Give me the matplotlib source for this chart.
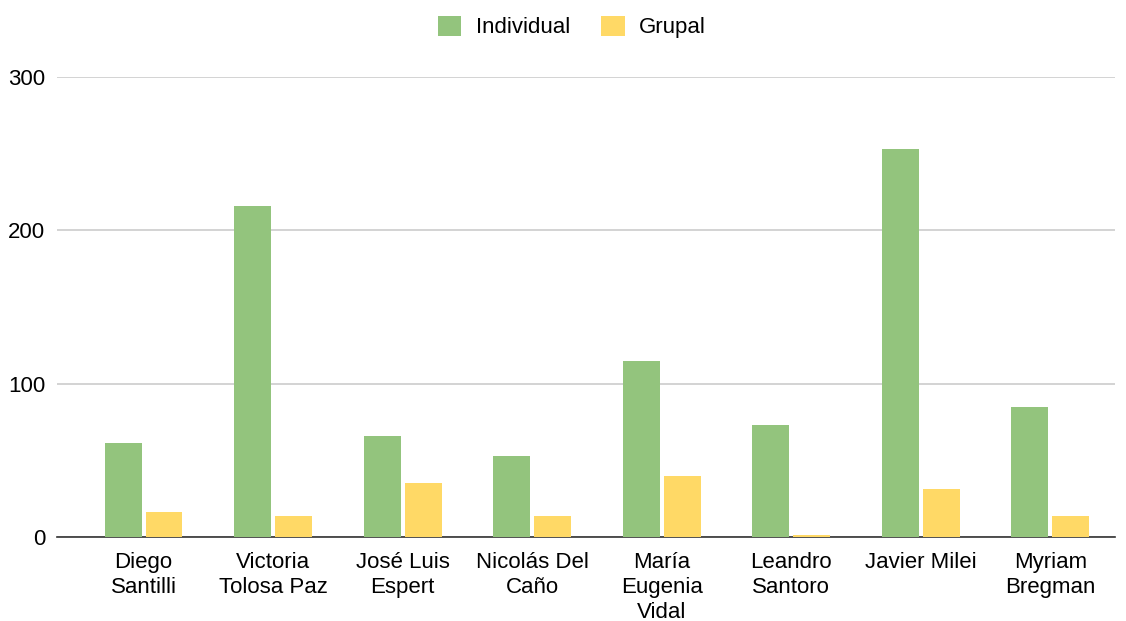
import numpy as np
import matplotlib.pyplot as plt
from matplotlib.patches import Patch

plt.rcParams['font.family'] = ['Liberation Sans', 'DejaVu Sans']

candidatos = ["Diego\nSantilli", "Victoria\nTolosa Paz", "José Luis\nEspert",
              "Nicolás Del\nCaño", "María\nEugenia\nVidal", "Leandro\nSantoro",
              "Javier Milei", "Myriam\nBregman"]
individual = [61, 216, 66, 53, 115, 73, 253, 85]
grupal = [16, 14, 35, 14, 40, 1, 31, 14]
yticks = [0, 100, 200, 300]

verde = '#93c47d'
amarillo = '#ffd966'

fig = plt.figure(figsize=(11.26, 6.21), dpi=100, facecolor='white')
ax = fig.add_axes([57 / 1126, 1 - 537 / 621, (1115 - 57) / 1126, (537 - 77) / 621])

x = np.arange(len(candidatos))
w = 0.285
off = 0.158
ax.bar(x - off, individual, width=w, color=verde, zorder=3)
ax.bar(x + off, grupal, width=w, color=amarillo, zorder=3)

ax.set_xlim(-0.668, len(candidatos) - 0.5)
ax.set_ylim(0, 300)
ax.set_yticks(yticks)
ax.set_xticks(x)
ax.set_xticklabels(candidatos, fontsize=16, linespacing=1.24)
ax.tick_params(axis='y', labelsize=16, length=0, pad=8.5)
ax.tick_params(axis='x', length=0, pad=11)

ax.grid(axis='y', color='#cccccc', linewidth=1.2, zorder=0)
for s in ['top', 'right', 'left']:
    ax.spines[s].set_visible(False)
ax.spines['bottom'].set_color('#333333')
ax.spines['bottom'].set_linewidth(1.2)
ax.spines['bottom'].set_zorder(2)

handles = [Patch(facecolor=verde, label='Individual'),
           Patch(facecolor=amarillo, label='Grupal')]
fig.legend(handles=handles, loc='center', bbox_to_anchor=(572 / 1126, 1 - 27 / 621),
           ncol=2, frameon=False, fontsize=16, handlelength=1.05,
           handleheight=1.05, handletextpad=0.65, columnspacing=1.4)

fig.savefig('out.png', dpi=100, facecolor='white')
